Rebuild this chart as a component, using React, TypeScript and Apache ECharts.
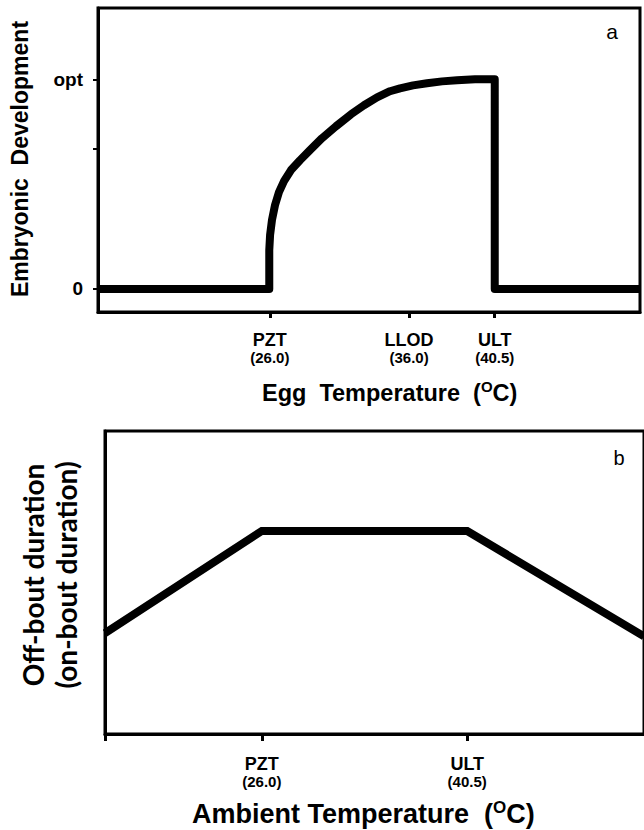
import React, { useEffect, useRef } from 'react';
import * as echarts from 'echarts';

// ---- Panel a: Embryonic development vs egg temperature (schematic positions) ----
const topTickPositions = [31.7, 57.4, 73.2];
const topTickNames = ['PZT', 'LLOD', 'ULT'];
const topTickTemps = ['(26.0)', '(36.0)', '(40.5)'];
const topYTickPositions = [0, 0.67, 1];
const topYLabelValues = [0, 1];
const topYLabelTexts = ['0', 'opt'];
// zero level, vertical rise at PZT, saturating curve, plateau, drop at ULT, zero level
const topCurveX = [0, 31.6, 31.6, 31.75, 32.1, 32.66, 33.39, 34.32, 35.61, 37.27, 39.11, 41.33, 43.91, 46.68, 49.08, 51.48, 53.87, 55.72, 58.12, 60.7, 63.47, 66.24, 69.56, 73.2, 73.2, 100];
const topCurveY = [0, 0, 0.186, 0.257, 0.329, 0.4, 0.462, 0.514, 0.567, 0.614, 0.662, 0.719, 0.776, 0.833, 0.876, 0.914, 0.943, 0.957, 0.971, 0.981, 0.99, 0.995, 1, 1, 0, 0];

// ---- Panel b: Off-bout / on-bout duration vs ambient temperature ----
const bottomTickPositions = [0, 29.1, 67.2];
const bottomLabelPositions = [29.1, 67.2];
const bottomTickNames = ['PZT', 'ULT'];
const bottomTickTemps = ['(26.0)', '(40.5)'];
const bottomLineX = [0, 29.1, 67.2, 100];
const bottomLineY = [3.33, 6.7, 6.7, 3.22];

const FONT = '"Liberation Sans", Arial, sans-serif';

const tickRich = {
  n: { fontFamily: FONT, fontSize: 18, fontWeight: 'bold', color: '#000', lineHeight: 19 },
  t: { fontFamily: FONT, fontSize: 15, fontWeight: 'bold', color: '#000', lineHeight: 16 },
};

function labelFor(positions: number[], names: string[], temps: string[]) {
  return (v: number) => {
    let best = 0;
    for (let i = 1; i < positions.length; i++) {
      if (Math.abs(positions[i] - v) < Math.abs(positions[best] - v)) best = i;
    }
    return `{n|${names[best]}}\n{t|${temps[best]}}`;
  };
}

const titleRich = (size: number, sup: number) => ({
  t: { fontFamily: FONT, fontSize: size, fontWeight: 'bold', color: '#000', lineHeight: size, padding: [4, 0, 0, 0] },
  s: { fontFamily: FONT, fontSize: sup, fontWeight: 'bold', color: '#000', lineHeight: sup, verticalAlign: 'top' },
});

const pairs = (xs: number[], ys: number[]) => xs.map((x, i) => [x, ys[i]]);

export default function App() {
  const ref = useRef<HTMLDivElement>(null);
  useEffect(() => {
    if (!ref.current) return;
    const chart = echarts.init(ref.current, undefined, { renderer: 'svg' });
    const axisLine = { show: true, onZero: false, lineStyle: { color: '#000', width: 3 } };
    chart.setOption({
      animation: false,
      backgroundColor: '#fff',
      grid: [
        { left: 98, top: 8, width: 542, height: 304, show: true, borderColor: '#000', borderWidth: 3, backgroundColor: 'transparent' },
        { left: 105, top: 431, width: 550, height: 303, show: true, borderColor: '#000', borderWidth: 3, backgroundColor: 'transparent' },
      ],
      xAxis: [
        {
          type: 'value', gridIndex: 0, min: 0, max: 100,
          axisLine,
          axisTick: { show: true, customValues: topTickPositions, length: 6, lineStyle: { color: '#000', width: 3 } },
          axisLabel: { customValues: topTickPositions, margin: 18, formatter: labelFor(topTickPositions, topTickNames, topTickTemps), rich: tickRich },
          splitLine: { show: false },
        },
        {
          type: 'value', gridIndex: 1, min: 0, max: 100,
          axisLine,
          axisTick: { show: true, customValues: bottomTickPositions, length: 7, lineStyle: { color: '#000', width: 3 } },
          axisLabel: { customValues: bottomLabelPositions, margin: 20, formatter: labelFor(bottomLabelPositions, bottomTickNames, bottomTickTemps), rich: tickRich },
          splitLine: { show: false },
        },
      ],
      yAxis: [
        {
          type: 'value', gridIndex: 0, min: -0.11, max: 1.34,
          axisLine,
          axisTick: { show: true, customValues: topYTickPositions, length: 5, lineStyle: { color: '#000', width: 2 } },
          axisLabel: {
            customValues: topYLabelValues, margin: 15,
            fontFamily: FONT, fontSize: 19, fontWeight: 'bold', color: '#000',
            formatter: (v: number) => topYLabelTexts[topYLabelValues.indexOf(v)] ?? '',
          },
          splitLine: { show: false },
        },
        {
          type: 'value', gridIndex: 1, min: 0, max: 10,
          axisLine,
          axisTick: { show: false },
          axisLabel: { show: false },
          splitLine: { show: false },
        },
      ],
      series: [
        {
          type: 'line', xAxisIndex: 0, yAxisIndex: 0, symbol: 'none',
          data: pairs(topCurveX, topCurveY),
          lineStyle: { color: '#000', width: 8, join: 'round', cap: 'butt' },
        },
        {
          type: 'line', xAxisIndex: 1, yAxisIndex: 1, symbol: 'none',
          data: pairs(bottomLineX, bottomLineY),
          lineStyle: { color: '#000', width: 8, join: 'miter', cap: 'butt' },
        },
      ],
      graphic: [
        {
          type: 'text', x: 20, y: 159, rotation: Math.PI / 2,
          style: { text: 'Embryonic  Development', fontFamily: FONT, fontSize: 23, fontWeight: 'bold', fill: '#000', align: 'center', verticalAlign: 'middle' },
        },
        {
          type: 'text', x: 262, y: 391,
          style: { text: '{t|Egg  Temperature  (}{s|O}{t|C)}', rich: titleRich(23.5, 15), align: 'left', verticalAlign: 'middle' },
        },
        {
          type: 'text', x: 612, y: 31,
          style: { text: 'a', fontFamily: FONT, fontSize: 21, fill: '#000', align: 'center', verticalAlign: 'middle' },
        },
        {
          type: 'text', x: 49, y: 575, rotation: Math.PI / 2,
          style: { text: 'Off-bout duration\n(on-bout duration)', fontFamily: 'Lato, "Open Sans", sans-serif', fontSize: 28, fontWeight: 'bold', fill: '#000', align: 'center', verticalAlign: 'middle', lineHeight: 33 },
        },
        {
          type: 'text', x: 192, y: 812,
          style: { text: '{t|Ambient Temperature  (}{s|O}{t|C)}', rich: titleRich(27, 17), align: 'left', verticalAlign: 'middle' },
        },
        {
          type: 'text', x: 619, y: 458,
          style: { text: 'b', fontFamily: FONT, fontSize: 20, fill: '#000', align: 'center', verticalAlign: 'middle' },
        },
      ],
    });
    return () => chart.dispose();
  }, []);
  return (
    <div style={{ position: 'fixed', left: 0, top: 0, width: 644, height: 830, background: '#fff' }}>
      <div ref={ref} style={{ width: 644, height: 830 }} />
    </div>
  );
}
